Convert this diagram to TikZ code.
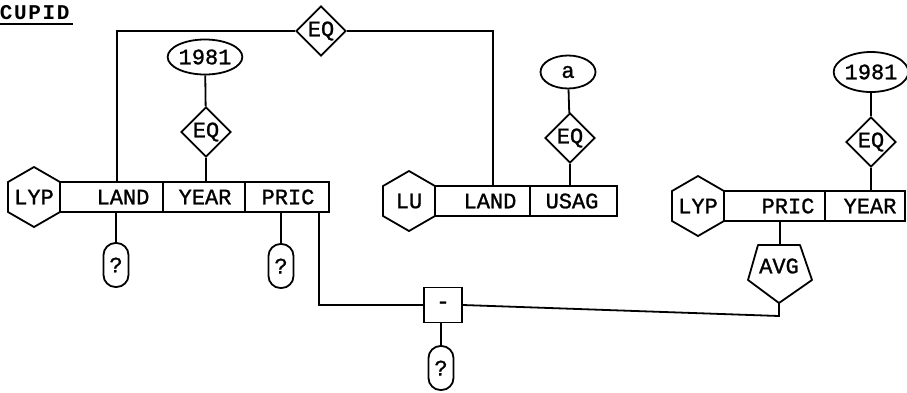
\documentclass[tikz,border=0pt]{standalone}
\usepackage{fontspec}
\newfontfamily\tw[FakeBold=1.2]{Liberation Mono}
\newfontfamily\twt[LetterSpace=8]{Liberation Mono}
\usetikzlibrary{shapes.geometric}
\begin{document}
\begin{tikzpicture}[x=1pt,y=-1pt,line width=1.8pt,
  every node/.style={font=\tw\fontsize{22}{24}\selectfont,inner sep=0pt},
  hexa/.style={draw,regular polygon,regular polygon sides=6,shape border rotate=30,minimum size=60pt},
  dia/.style={draw,diamond,aspect=1,minimum width=50pt,minimum height=50pt},
  ell/.style={draw,ellipse,minimum width=63pt,minimum height=35pt},
  qbox/.style={draw,rectangle,rounded corners=12pt,minimum width=25pt,minimum height=44pt},
  field/.style={draw,rectangle,minimum height=30pt}
]
\useasboundingbox (0,0) rectangle (907,392);
% title
\node[anchor=west,font=\twt\bfseries\fontsize{21}{24}\selectfont] (title) at (-1,13) {CUPID};
\draw (0,24) -- (73,24);

% left table LYP
\node[hexa] (hex1) at (34,197) {};
\node (hex1t) at (34,197) {LYP};
\node[field,minimum width=103pt] (l1) at (111.5,197) {};
\node[field,minimum width=82pt] (y1) at (204,197) {};
\node[field,minimum width=84pt] (p1) at (287,197) {};
\node (l1t) at (123,197) {LAND};
\node (y1t) at (205,197) {YEAR};
\node (p1t) at (288,197) {PRIC};

\node[ell] (e1) at (205,57) {1981};
\node[dia] (eq1) at (206,132) {EQ};
\draw (e1) -- (eq1);
\draw (eq1) -- (eq1 |- y1.north);

\node[qbox] (q1) at (116,265) {?};
\node[qbox] (q2) at (281,266) {?};
\draw (q1 |- l1.south) -- (q1);
\draw (q2 |- p1.south) -- (q2);

% top EQ
\node[dia] (eq0) at (321,31) {EQ};
\coordinate (c1) at (117,182);
\draw (c1) -- (c1 |- eq0.west) -- (eq0.west);

% LU table
\node[hexa] (hex2) at (409,201) {};
\node (hex2t) at (409,201) {LU};
\node[field,minimum width=95pt] (l2) at (482.5,201) {};
\node[field,minimum width=87pt] (u2) at (573.5,201) {};
\node (l2t) at (490,201) {LAND};
\node (u2t) at (572,201) {USAG};
\coordinate (c2) at (493,186);
\draw (eq0.east) -- (eq0.east -| c2) -- (c2);

\node[ell,minimum width=55pt,minimum height=33pt] (ea) at (568,72) {a};
\node[dia] (eq2) at (570,138) {EQ};
\draw (ea) -- (eq2);
\draw (eq2) -- (eq2 |- u2.north);

% right table LYP
\node[hexa] (hex3) at (698,206) {};
\node (hex3t) at (698,206) {LYP};
\node[field,minimum width=101pt] (p3) at (774.5,206) {};
\node[field,minimum width=80pt] (y3) at (865,206) {};
\node (p3t) at (788,206) {PRIC};
\node (y3t) at (870,206) {YEAR};

\node[ell,minimum width=66pt,minimum height=40pt] (e3) at (871,72) {1981};
\node[dia] (eq3) at (871,142) {EQ};
\draw (e3) -- (eq3);
\draw (eq3) -- (eq3 |- y3.north);

% AVG
\coordinate (avgtl) at (758,245);
\coordinate (avgtr) at (800,245);
\coordinate (avgr) at (812,280);
\coordinate (avgb) at (779,303);
\coordinate (avgl) at (748,280);
\draw[line join=round] (avgtl) -- (avgtr) -- (avgr) -- (avgb) -- (avgl) -- cycle;
\node (avg) at (779,266) {AVG};
\coordinate (avgt) at (780,245);
\draw (avgt |- p3.south) -- (avgt);

% minus
\node[draw,rectangle,minimum width=38pt,minimum height=35pt] (minus) at (443,305) {-};
\coordinate (c3) at (319,212);
\draw (c3) -- (c3 |- minus.west) -- (minus.west);
\draw (minus.east) -- (avgb |- 0,316) -- (avgb);

\node[qbox] (q3) at (441,368) {?};
\draw (minus.south -| q3) -- (q3);
\end{tikzpicture}
\end{document}
